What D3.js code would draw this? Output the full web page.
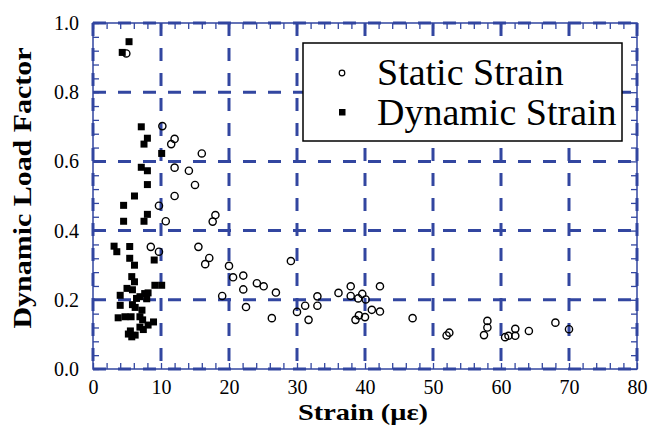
<!DOCTYPE html>
<html>
<head>
<meta charset="utf-8">
<script src="https://cdn.jsdelivr.net/npm/d3@7"></script>
<style>
  body { margin: 0; background: #fff; }
  svg { display: block; }
</style>
</head>
<body>
<div id="chart"></div>
<script>
// chart data
var xTicks = [0, 10, 20, 30, 40, 50, 60, 70, 80];
var yTicks = [0.0, 0.2, 0.4, 0.6, 0.8, 1.0];

// static strain (circles)
var staticX = [4.9, 10.2, 12.0, 11.5, 16.0, 12.0, 14.1, 15.0, 12.0, 9.7, 10.7, 17.6, 18.0,
               8.5, 9.7, 15.5, 17.1, 16.5, 20.0, 20.6, 22.1, 22.1, 22.5, 19.0, 24.1, 25.1,
               26.9, 26.3, 29.1, 30.0, 31.2, 31.7, 33.0, 33.0, 36.1, 37.9, 37.9, 39.0, 39.6,
               40.1, 42.2, 42.2, 41.0, 39.1, 40.0, 38.6, 47.0, 52.0, 52.4, 58.0, 58.0, 57.5,
               60.6, 61.1, 62.1, 62.1, 64.1, 68.0, 70.0];
var staticY = [0.912, 0.702, 0.665, 0.650, 0.623, 0.582, 0.573, 0.532, 0.500, 0.472, 0.427, 0.426, 0.445,
               0.353, 0.339, 0.353, 0.321, 0.303, 0.298, 0.265, 0.270, 0.230, 0.179, 0.211, 0.248, 0.239,
               0.221, 0.147, 0.312, 0.165, 0.183, 0.142, 0.210, 0.183, 0.220, 0.239, 0.211, 0.204, 0.217,
               0.201, 0.239, 0.166, 0.171, 0.155, 0.150, 0.142, 0.147, 0.097, 0.105, 0.139, 0.120, 0.098,
               0.092, 0.096, 0.116, 0.096, 0.110, 0.134, 0.115];

// dynamic strain (squares)
var dynamicX = [5.3, 4.3, 7.1, 8.0, 7.5, 10.1, 7.1, 8.0, 8.0, 6.1, 4.5, 8.0, 4.5, 7.5,
                3.1, 3.5, 5.4, 5.4, 6.1, 9.0, 5.7, 6.1, 9.1, 10.1, 5.0, 5.8, 4.0, 8.1,
                7.6, 7.9, 6.4, 6.9, 4.0, 5.8, 6.2, 7.2, 3.7, 4.7, 5.6, 6.9, 7.3, 8.9,
                8.1, 6.9, 7.4, 5.2, 5.7, 6.2, 5.5];
var dynamicY = [0.946, 0.915, 0.700, 0.667, 0.650, 0.623, 0.583, 0.573, 0.533, 0.500, 0.473, 0.447, 0.427, 0.427,
                0.355, 0.339, 0.354, 0.320, 0.300, 0.315, 0.267, 0.252, 0.242, 0.242, 0.233, 0.229, 0.213, 0.220,
                0.218, 0.203, 0.204, 0.209, 0.184, 0.186, 0.178, 0.170, 0.148, 0.151, 0.151, 0.151, 0.142, 0.136,
                0.127, 0.121, 0.114, 0.101, 0.093, 0.098, 0.110];

var legendLabels = ["Static Strain", "Dynamic Strain"];

var svgWidth = 648, svgHeight = 432;
var plotLeft = 93, plotRight = 637, plotTop = 23, plotBottom = 369;
var blue = "#3246a0";
var serif = "Liberation Serif, Times New Roman, serif";

var xScale = d3.scaleLinear().domain([0, 80]).range([plotLeft, plotRight]);
var yScale = d3.scaleLinear().domain([0, 1]).range([plotBottom, plotTop]);

var svg = d3.select("#chart")
            .append("svg")
            .attr("width", svgWidth)
            .attr("height", svgHeight);

svg.append("rect")
    .attr("width", svgWidth)
    .attr("height", svgHeight)
    .attr("fill", "#fff");

// dashed grid
svg.append("g")
    .selectAll("line")
    .data(xTicks)
    .enter()
      .append("line")
      .attr("x1", function(d) { return xScale(d); })
      .attr("x2", function(d) { return xScale(d); })
      .attr("y1", plotTop)
      .attr("y2", plotBottom)
      .attr("stroke", blue)
      .attr("stroke-width", 3)
      .attr("stroke-dasharray", "13,12");

svg.append("g")
    .selectAll("line")
    .data(yTicks)
    .enter()
      .append("line")
      .attr("y1", function(d) { return yScale(d); })
      .attr("y2", function(d) { return yScale(d); })
      .attr("x1", plotLeft)
      .attr("x2", plotRight)
      .attr("stroke", blue)
      .attr("stroke-width", 3)
      .attr("stroke-dasharray", "13,12");

// inward minor ticks on all four sides
var xMinor = d3.range(0, 81, 2);
var yMinor = d3.range(0, 1.001, 0.04);

function styleAxis(g) {
  g.select(".domain").remove();
  g.selectAll(".tick line").attr("stroke", blue).attr("stroke-width", 1.3);
  g.selectAll("text").remove();
}

svg.append("g")
    .attr("transform", "translate(0," + plotBottom + ")")
    .call(d3.axisBottom(xScale).tickValues(xMinor).tickSize(-6))
    .call(styleAxis);
svg.append("g")
    .attr("transform", "translate(0," + plotTop + ")")
    .call(d3.axisTop(xScale).tickValues(xMinor).tickSize(-6))
    .call(styleAxis);
svg.append("g")
    .attr("transform", "translate(" + plotLeft + ",0)")
    .call(d3.axisLeft(yScale).tickValues(yMinor).tickSize(-6))
    .call(styleAxis);
svg.append("g")
    .attr("transform", "translate(" + plotRight + ",0)")
    .call(d3.axisRight(yScale).tickValues(yMinor).tickSize(-6))
    .call(styleAxis);

// thin frame
svg.append("rect")
    .attr("x", plotLeft)
    .attr("y", plotTop)
    .attr("width", plotRight - plotLeft)
    .attr("height", plotBottom - plotTop)
    .attr("fill", "none")
    .attr("stroke", blue)
    .attr("stroke-width", 1.5);

// tick labels
var xAxis = d3.axisBottom(xScale).tickValues(xTicks).tickSize(0).tickPadding(11)
              .tickFormat(d3.format("d"));
var yAxis = d3.axisLeft(yScale).tickValues(yTicks).tickSize(0).tickPadding(14)
              .tickFormat(d3.format(".1f"));

svg.append("g")
    .attr("transform", "translate(0," + plotBottom + ")")
    .call(xAxis)
    .call(function(g) { g.select(".domain").remove(); })
    .selectAll("text")
      .attr("font-family", serif)
      .attr("font-size", 20)
      .attr("fill", "#000");

svg.append("g")
    .attr("transform", "translate(" + plotLeft + ",0)")
    .call(yAxis)
    .call(function(g) { g.select(".domain").remove(); })
    .selectAll("text")
      .attr("font-family", serif)
      .attr("font-size", 20)
      .attr("fill", "#000");

// data points
var staticData = staticX.map(function(d, i) { return [d, staticY[i]]; });
var dynamicData = dynamicX.map(function(d, i) { return [d, dynamicY[i]]; });

svg.append("g")
    .selectAll("rect")
    .data(dynamicData)
    .enter()
      .append("rect")
      .attr("x", function(d) { return xScale(d[0]) - 3.5; })
      .attr("y", function(d) { return yScale(d[1]) - 3.5; })
      .attr("width", 7)
      .attr("height", 7)
      .attr("fill", "#000");

svg.append("g")
    .selectAll("circle")
    .data(staticData)
    .enter()
      .append("circle")
      .attr("cx", function(d) { return xScale(d[0]); })
      .attr("cy", function(d) { return yScale(d[1]); })
      .attr("r", 3.6)
      .attr("fill", "none")
      .attr("stroke", "#000")
      .attr("stroke-width", 1.4);

// legend
var legend = svg.append("g");
legend.append("rect")
    .attr("x", 303)
    .attr("y", 43)
    .attr("width", 319)
    .attr("height", 98)
    .attr("fill", "#fff")
    .attr("stroke", "#000")
    .attr("stroke-width", 1.5);
legend.append("circle")
    .attr("cx", 342)
    .attr("cy", 73)
    .attr("r", 2.8)
    .attr("fill", "none")
    .attr("stroke", "#000")
    .attr("stroke-width", 1.2);
legend.append("rect")
    .attr("x", 339)
    .attr("y", 109)
    .attr("width", 6.5)
    .attr("height", 6.5)
    .attr("fill", "#000");
legend.selectAll("text")
    .data(legendLabels)
    .enter()
      .append("text")
      .attr("x", 377)
      .attr("y", function(d, i) { return 85 + i * 40; })
      .attr("font-family", serif)
      .attr("font-size", 38)
      .attr("fill", "#000")
      .text(function(d) { return d; });

// axis titles
svg.append("text")
    .attr("x", 363)
    .attr("y", 420)
    .attr("text-anchor", "middle")
    .attr("font-family", serif)
    .attr("font-size", 24)
    .attr("font-weight", "bold")
    .attr("textLength", 130)
    .attr("lengthAdjust", "spacingAndGlyphs")
    .text("Strain (\u03bc\u03b5)");

svg.append("text")
    .attr("transform", "translate(31,188) rotate(-90)")
    .attr("text-anchor", "middle")
    .attr("font-family", serif)
    .attr("font-size", 26)
    .attr("font-weight", "bold")
    .attr("textLength", 281)
    .attr("lengthAdjust", "spacingAndGlyphs")
    .text("Dynamic Load Factor");
</script>
</body>
</html>
